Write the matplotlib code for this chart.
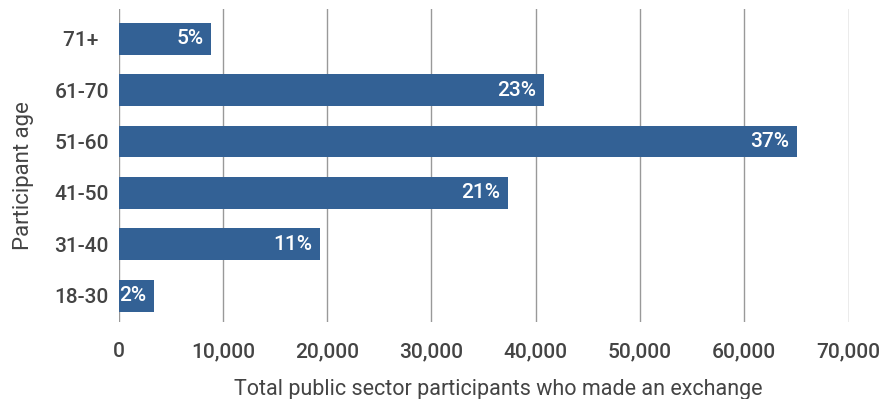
import matplotlib.pyplot as plt
import numpy as np

plt.rcParams['font.family'] = ['Roboto', 'DejaVu Sans']
plt.rcParams['font.weight'] = 'medium'

# Data
ages = ['18-30', '31-40', '41-50', '51-60', '61-70', '71+  ']
participants = [3400, 19320, 37320, 65030, 40770, 8870]
shares = ['2%', '11%', '21%', '37%', '23%', '5%']
xticks = [0, 10000, 20000, 30000, 40000, 50000, 60000, 70000]

bar_color = '#336195'
text_color = '#444444'

fig = plt.figure(figsize=(8.89, 3.99), dpi=100)
ax = fig.add_axes([0.1333, 0.194, 0.8212, 0.7827])

y = np.arange(len(ages))
bars = ax.barh(y, participants, height=0.62, color=bar_color, zorder=3)

# percentage labels inside the bar ends
for b, s in zip(bars, shares):
    ax.text(b.get_width() - 700, b.get_y() + b.get_height() / 2, s,
            ha='right', va='center', color='white', fontsize=15, zorder=4)

ax.set_xlim(0, 70000)
ax.set_ylim(-0.5, 5.57)
ax.set_yticks(y)
ax.set_yticklabels(ages)
ax.set_xticks(xticks)
ax.set_xticklabels(['{:,}'.format(v) for v in xticks])

ax.grid(axis='x', color='#999999', linewidth=1.0, zorder=0)
for s in ax.spines.values():
    s.set_visible(False)
ax.tick_params(axis='both', length=0, labelsize=15, labelcolor=text_color)
ax.tick_params(axis='x', pad=15)
ax.tick_params(axis='y', pad=7)

ax.set_xlabel('Total public sector participants who made an exchange',
              fontsize=15.5, color=text_color)
ax.xaxis.set_label_coords(0.52, -0.184)
ax.set_ylabel('Participant age', fontsize=16, color=text_color)
ax.yaxis.set_label_coords(-0.116, 0.467)

fig.savefig('out.png', dpi=100)
